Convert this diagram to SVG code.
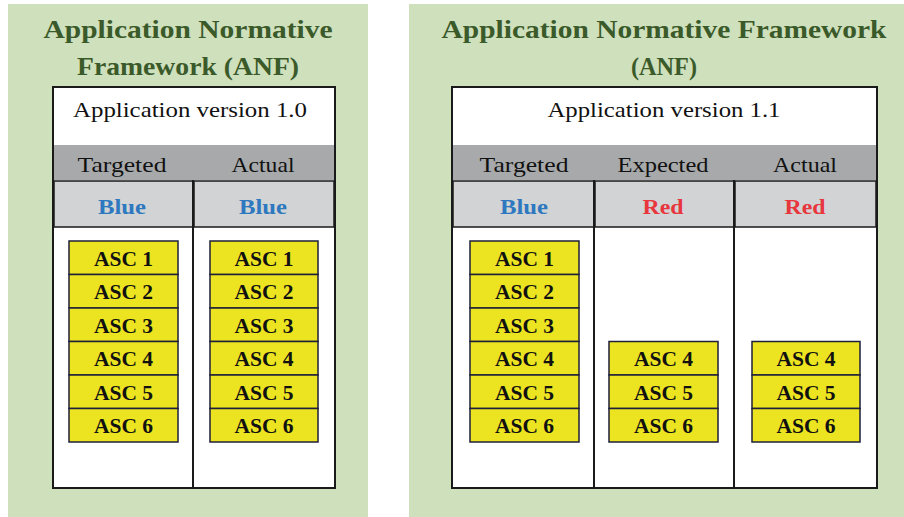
<svg xmlns="http://www.w3.org/2000/svg" width="904" height="517" viewBox="0 0 904 517">
<style>
.panel{fill:#cfe0bd}
.title{font-family:"Liberation Serif","DejaVu Serif",serif;font-weight:bold;font-size:26px;fill:#3b5a2a;text-anchor:middle}
.ver{font-family:"Liberation Serif","DejaVu Serif",serif;font-size:21px;fill:#111;text-anchor:middle}
.hdr{font-family:"Liberation Serif","DejaVu Serif",serif;font-size:21px;fill:#111;text-anchor:middle}
.col{font-family:"Liberation Serif","DejaVu Serif",serif;font-weight:bold;font-size:22px;text-anchor:middle}
.blue{fill:#2e78c0}
.red{fill:#e8363d}
.box{fill:#ffffff;stroke:#1a1a1a;stroke-width:2}
.gray{fill:#a7a9ab}
.lgray{fill:#d1d3d4;stroke:#1a1a1a;stroke-width:1.5}
.asc rect{fill:#ece420;stroke:#1f1f3a;stroke-width:1.5}
.asc text{font-family:"Liberation Serif","DejaVu Serif",serif;font-weight:bold;font-size:21.5px;fill:#111;text-anchor:middle}
.line{stroke:#1a1a1a;stroke-width:2}
</style>

<rect x="0" y="0" width="904" height="517" fill="#ffffff"/>

<g id="left-panel">
  <rect class="panel" x="8" y="4" width="360" height="513"/>
  <text class="title" x="188" y="38" textLength="289" lengthAdjust="spacingAndGlyphs">Application Normative</text>
  <text class="title" x="188" y="75" textLength="222" lengthAdjust="spacingAndGlyphs">Framework (ANF)</text>
</g>

<g id="left-table">
  <rect class="box" x="53" y="87" width="282" height="401"/>
  <text class="ver" x="190" y="117" textLength="234" lengthAdjust="spacingAndGlyphs">Application version 1.0</text>
  <rect class="gray" x="54" y="145" width="280" height="35"/>
  <text class="hdr" x="122" y="172" textLength="89" lengthAdjust="spacingAndGlyphs">Targeted</text>
  <text class="hdr" x="263" y="172" textLength="63" lengthAdjust="spacingAndGlyphs">Actual</text>
  <rect class="lgray" x="54" y="181" width="139" height="46"/>
  <rect class="lgray" x="194" y="181" width="140" height="46"/>
  <text class="col blue" x="122" y="214" textLength="48" lengthAdjust="spacingAndGlyphs">Blue</text>
  <text class="col blue" x="263" y="214" textLength="48" lengthAdjust="spacingAndGlyphs">Blue</text>
  <line class="line" x1="193" y1="180" x2="193" y2="488"/>
</g>

<g id="right-panel">
  <rect class="panel" x="409" y="4" width="495" height="513"/>
  <text class="title" x="664" y="38" textLength="445" lengthAdjust="spacingAndGlyphs">Application Normative Framework</text>
  <text class="title" x="664" y="75" textLength="66" lengthAdjust="spacingAndGlyphs">(ANF)</text>
</g>

<g id="right-table">
  <rect class="box" x="452" y="87" width="425" height="401"/>
  <text class="ver" x="664" y="117" textLength="233" lengthAdjust="spacingAndGlyphs">Application version 1.1</text>
  <rect class="gray" x="453" y="145" width="423" height="35"/>
  <text class="hdr" x="524" y="172" textLength="89" lengthAdjust="spacingAndGlyphs">Targeted</text>
  <text class="hdr" x="663" y="172" textLength="91" lengthAdjust="spacingAndGlyphs">Expected</text>
  <text class="hdr" x="805" y="172" textLength="64" lengthAdjust="spacingAndGlyphs">Actual</text>
  <rect class="lgray" x="453" y="181" width="141" height="46"/>
  <rect class="lgray" x="595" y="181" width="139" height="46"/>
  <rect class="lgray" x="735" y="181" width="141" height="46"/>
  <text class="col blue" x="524" y="214" textLength="48" lengthAdjust="spacingAndGlyphs">Blue</text>
  <text class="col red" x="663" y="214" textLength="41" lengthAdjust="spacingAndGlyphs">Red</text>
  <text class="col red" x="805" y="214" textLength="41" lengthAdjust="spacingAndGlyphs">Red</text>
  <line class="line" x1="594" y1="180" x2="594" y2="488"/>
  <line class="line" x1="734" y1="180" x2="734" y2="488"/>
</g>

<g id="left-targeted-ascs" class="asc">
  <rect x="69" y="241" width="109" height="33.5"/><text x="123.5" y="265.5">ASC 1</text>
  <rect x="69" y="274.5" width="109" height="33.5"/><text x="123.5" y="299">ASC 2</text>
  <rect x="69" y="308" width="109" height="33.5"/><text x="123.5" y="332.5">ASC 3</text>
  <rect x="69" y="341.5" width="109" height="33.5"/><text x="123.5" y="366">ASC 4</text>
  <rect x="69" y="375" width="109" height="33.5"/><text x="123.5" y="399.5">ASC 5</text>
  <rect x="69" y="408.5" width="109" height="33.5"/><text x="123.5" y="433">ASC 6</text>
</g>

<g id="left-actual-ascs" class="asc">
  <rect x="210" y="241" width="108" height="33.5"/><text x="264" y="265.5">ASC 1</text>
  <rect x="210" y="274.5" width="108" height="33.5"/><text x="264" y="299">ASC 2</text>
  <rect x="210" y="308" width="108" height="33.5"/><text x="264" y="332.5">ASC 3</text>
  <rect x="210" y="341.5" width="108" height="33.5"/><text x="264" y="366">ASC 4</text>
  <rect x="210" y="375" width="108" height="33.5"/><text x="264" y="399.5">ASC 5</text>
  <rect x="210" y="408.5" width="108" height="33.5"/><text x="264" y="433">ASC 6</text>
</g>

<g id="right-targeted-ascs" class="asc">
  <rect x="470" y="241" width="109" height="33.5"/><text x="524.5" y="265.5">ASC 1</text>
  <rect x="470" y="274.5" width="109" height="33.5"/><text x="524.5" y="299">ASC 2</text>
  <rect x="470" y="308" width="109" height="33.5"/><text x="524.5" y="332.5">ASC 3</text>
  <rect x="470" y="341.5" width="109" height="33.5"/><text x="524.5" y="366">ASC 4</text>
  <rect x="470" y="375" width="109" height="33.5"/><text x="524.5" y="399.5">ASC 5</text>
  <rect x="470" y="408.5" width="109" height="33.5"/><text x="524.5" y="433">ASC 6</text>
</g>

<g id="right-expected-ascs" class="asc">
  <rect x="609" y="341.5" width="109" height="33.5"/><text x="663.5" y="366">ASC 4</text>
  <rect x="609" y="375" width="109" height="33.5"/><text x="663.5" y="399.5">ASC 5</text>
  <rect x="609" y="408.5" width="109" height="33.5"/><text x="663.5" y="433">ASC 6</text>
</g>

<g id="right-actual-ascs" class="asc">
  <rect x="752" y="341.5" width="108" height="33.5"/><text x="806" y="366">ASC 4</text>
  <rect x="752" y="375" width="108" height="33.5"/><text x="806" y="399.5">ASC 5</text>
  <rect x="752" y="408.5" width="108" height="33.5"/><text x="806" y="433">ASC 6</text>
</g>

<g id="connectors"></g>
</svg>
